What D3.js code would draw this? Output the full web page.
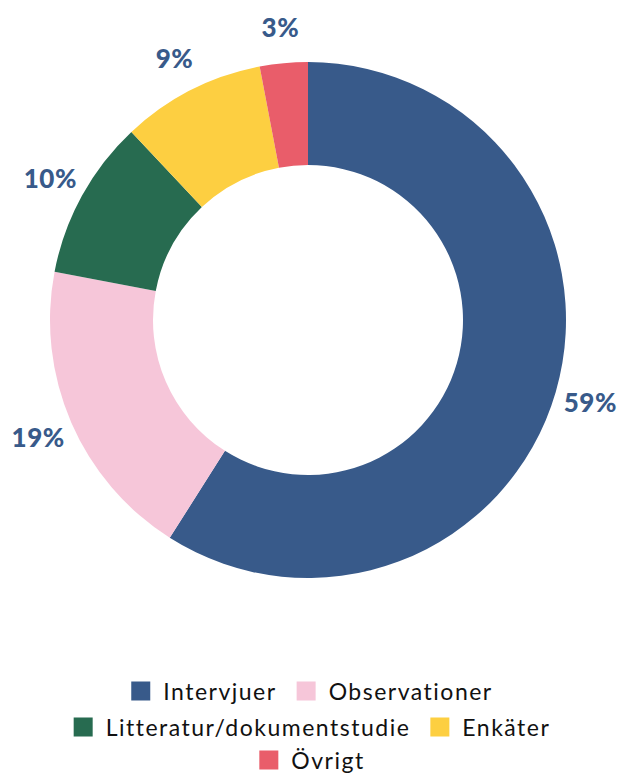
<!DOCTYPE html>
<html>
<head>
<meta charset="utf-8">
<script src="https://cdn.jsdelivr.net/npm/d3@7"></script>
<style>
  body { margin: 0; background: #fff; }
  svg text { font-family: "Lato", "Noto Sans", sans-serif; }
</style>
</head>
<body>
<div id="chart"></div>
<script>
const categories = ["Intervjuer", "Observationer", "Litteratur/dokumentstudie", "Enkäter", "Övrigt"];
const values = [59, 19, 10, 9, 3];
const colors = ["#385a8a", "#f6c6d9", "#276b50", "#fdcf41", "#e95d6a"];
const legendRows = [[0, 1], [2, 3], [4]];

const width = 620, height = 775;
const cx = 308, cy = 320;
const outerR = 258, innerR = 155, labelR = 294;

const svg = d3.select("#chart")
  .append("svg")
  .attr("width", width)
  .attr("height", height);

const color = d3.scaleOrdinal().domain(categories).range(colors);

const pie = d3.pie().sort(null).value(d => d.value);
const arcs = pie(categories.map((c, i) => ({ name: c, value: values[i] })));

const arc = d3.arc().innerRadius(innerR).outerRadius(outerR);

const g = svg.append("g").attr("transform", `translate(${cx},${cy})`);

g.selectAll("path")
  .data(arcs)
  .join("path")
  .attr("d", arc)
  .attr("fill", d => color(d.data.name));

// percentage labels outside the ring
g.selectAll("text.pct")
  .data(arcs)
  .join("text")
  .attr("class", "pct")
  .attr("x", d => labelR * Math.sin((d.startAngle + d.endAngle) / 2))
  .attr("y", d => -labelR * Math.cos((d.startAngle + d.endAngle) / 2))
  .attr("text-anchor", "middle")
  .attr("dominant-baseline", "central")
  .attr("fill", "#385a8a")
  .style("font-size", "26px")
  .style("font-weight", "900")
  .style("letter-spacing", "0.5px")
  .text(d => d.data.value + "%");

// Legend
const sq = 19, gapText = 13, gapItem = 20;
const rowY = [691, 727, 760];

legendRows.forEach((row, r) => {
  const rowG = svg.append("g");
  let x = 0;
  row.forEach(i => {
    const item = rowG.append("g").attr("transform", `translate(${x},0)`);
    item.append("rect")
      .attr("x", 0)
      .attr("y", -sq / 2)
      .attr("width", sq)
      .attr("height", sq)
      .attr("fill", colors[i]);
    const t = item.append("text")
      .attr("x", sq + gapText)
      .attr("y", 0)
      .attr("dominant-baseline", "central")
      .attr("fill", "#111")
      .style("font-size", "23px")
      .style("letter-spacing", "1.5px")
      .text(categories[i]);
    x += sq + gapText + t.node().getComputedTextLength() + gapItem;
  });
  const total = x - gapItem;
  rowG.attr("transform", `translate(${(width - total) / 2 + 2},${rowY[r]})`);
});
</script>
</body>
</html>
